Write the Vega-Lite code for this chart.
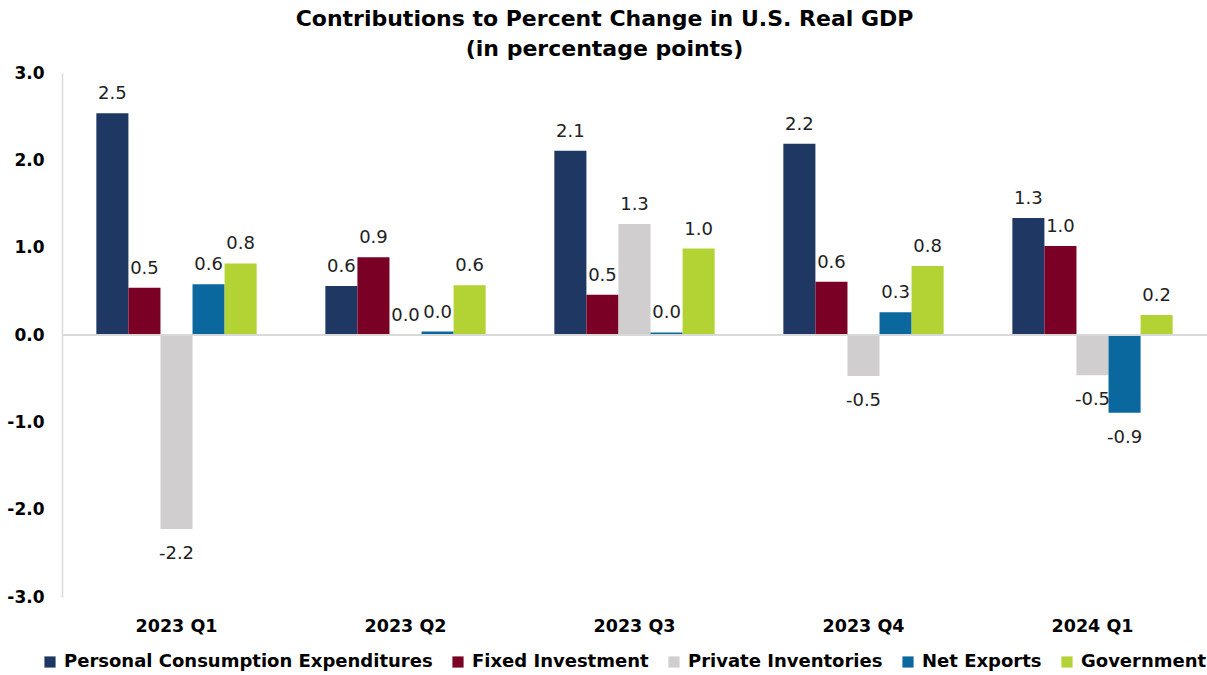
{
  "$schema": "https://vega.github.io/schema/vega-lite/v6.json",
  "width": 1145,
  "height": 524,
  "autosize": "none",
  "padding": {"left": 62, "top": 73, "right": 0, "bottom": 78},
  "background": "white",
  "config": {"view": {"stroke": null}, "font": "DejaVu Sans"},
  "title": {
    "text": ["Contributions to Percent Change in U.S. Real GDP", "(in percentage points)"],
    "fontSize": 22,
    "fontWeight": "bold",
    "font": "DejaVu Sans",
    "color": "#000000",
    "anchor": "middle",
    "dx": -30,
    "offset": 3,
    "lineHeight": 30
  },
  "data": {
    "values": [
      {"quarter": "2023 Q1", "component": "Personal Consumption Expenditures", "value": 2.54},
      {"quarter": "2023 Q1", "component": "Fixed Investment", "value": 0.54},
      {"quarter": "2023 Q1", "component": "Private Inventories", "value": -2.22},
      {"quarter": "2023 Q1", "component": "Net Exports", "value": 0.58},
      {"quarter": "2023 Q1", "component": "Government", "value": 0.82},
      {"quarter": "2023 Q2", "component": "Personal Consumption Expenditures", "value": 0.56},
      {"quarter": "2023 Q2", "component": "Fixed Investment", "value": 0.89},
      {"quarter": "2023 Q2", "component": "Private Inventories", "value": 0.0},
      {"quarter": "2023 Q2", "component": "Net Exports", "value": 0.04},
      {"quarter": "2023 Q2", "component": "Government", "value": 0.57},
      {"quarter": "2023 Q3", "component": "Personal Consumption Expenditures", "value": 2.11},
      {"quarter": "2023 Q3", "component": "Fixed Investment", "value": 0.46},
      {"quarter": "2023 Q3", "component": "Private Inventories", "value": 1.27},
      {"quarter": "2023 Q3", "component": "Net Exports", "value": 0.03},
      {"quarter": "2023 Q3", "component": "Government", "value": 0.99},
      {"quarter": "2023 Q4", "component": "Personal Consumption Expenditures", "value": 2.19},
      {"quarter": "2023 Q4", "component": "Fixed Investment", "value": 0.61},
      {"quarter": "2023 Q4", "component": "Private Inventories", "value": -0.47},
      {"quarter": "2023 Q4", "component": "Net Exports", "value": 0.26},
      {"quarter": "2023 Q4", "component": "Government", "value": 0.79},
      {"quarter": "2024 Q1", "component": "Personal Consumption Expenditures", "value": 1.34},
      {"quarter": "2024 Q1", "component": "Fixed Investment", "value": 1.02},
      {"quarter": "2024 Q1", "component": "Private Inventories", "value": -0.46},
      {"quarter": "2024 Q1", "component": "Net Exports", "value": -0.89},
      {"quarter": "2024 Q1", "component": "Government", "value": 0.23}
    ]
  },
  "transform": [
    {"calculate": "replace(format(datum.value, '.1f'), '\u2212', '-')", "as": "label"}
  ],
  "encoding": {
    "x": {
      "field": "quarter",
      "type": "nominal",
      "sort": null,
      "scale": {"paddingInner": 0.3, "paddingOuter": 0.15},
      "axis": {
        "title": null,
        "orient": "bottom",
        "domain": false,
        "ticks": false,
        "labelAngle": 0,
        "labelFontSize": 17.5,
        "labelFontWeight": "bold",
        "labelColor": "#000000",
        "labelFont": "DejaVu Sans",
        "labelPadding": 20
      }
    },
    "xOffset": {
      "field": "component",
      "type": "nominal",
      "sort": ["Personal Consumption Expenditures", "Fixed Investment", "Private Inventories", "Net Exports", "Government"],
      "scale": {"paddingInner": 0, "paddingOuter": 0}
    }
  },
  "layer": [
    {
      "mark": {"type": "bar"},
      "encoding": {
        "y": {
          "field": "value",
          "type": "quantitative",
          "scale": {"domain": [-3, 3], "nice": false, "zero": false},
          "axis": {
            "title": null,
            "values": [-3, -2, -1, 0, 1, 2, 3],
            "labelExpr": "replace(format(datum.value, '.1f'), '\u2212', '-')",
            "grid": false,
            "ticks": false,
            "domain": true,
            "domainColor": "#d9d9d9",
            "domainWidth": 1.5,
            "labelFontSize": 17,
            "labelFontWeight": "bold",
            "labelColor": "#000000",
            "labelFont": "DejaVu Sans",
            "labelPadding": 18
          }
        },
        "color": {
          "field": "component",
          "type": "nominal",
          "sort": ["Personal Consumption Expenditures", "Fixed Investment", "Private Inventories", "Net Exports", "Government"],
          "scale": {
            "domain": ["Personal Consumption Expenditures", "Fixed Investment", "Private Inventories", "Net Exports", "Government"],
            "range": ["#1f3763", "#7a0026", "#d0cece", "#0b689e", "#b3d234"]
          },
          "legend": {
            "title": null,
            "orient": "none",
            "direction": "horizontal",
            "legendX": -21,
            "legendY": 580,
            "symbolType": "square",
            "symbolSize": 125,
            "symbolStrokeWidth": 0,
            "labelFontSize": 18,
            "labelFontWeight": "bold",
            "labelColor": "#000000",
            "labelFont": "DejaVu Sans",
            "labelLimit": 0,
            "columnPadding": 16,
            "labelOffset": 5
          }
        }
      }
    },
    {
      "mark": {"type": "rule", "color": "#d9d9d9", "strokeWidth": 1.5},
      "encoding": {"y": {"datum": 0, "type": "quantitative"}, "x": {"value": 0}, "x2": {"value": 1145}, "xOffset": null}
    },
    {
      "transform": [{"filter": "datum.value >= 0"}],
      "mark": {"type": "text", "baseline": "alphabetic", "dy": -14, "fontSize": 18, "color": "#222222", "font": "DejaVu Sans"},
      "encoding": {
        "y": {"field": "value", "type": "quantitative"},
        "text": {"field": "label"}
      }
    },
    {
      "transform": [{"filter": "datum.value < 0"}],
      "mark": {"type": "text", "baseline": "alphabetic", "dy": 30, "fontSize": 18, "color": "#222222", "font": "DejaVu Sans"},
      "encoding": {
        "y": {"field": "value", "type": "quantitative"},
        "text": {"field": "label"}
      }
    }
  ]
}
